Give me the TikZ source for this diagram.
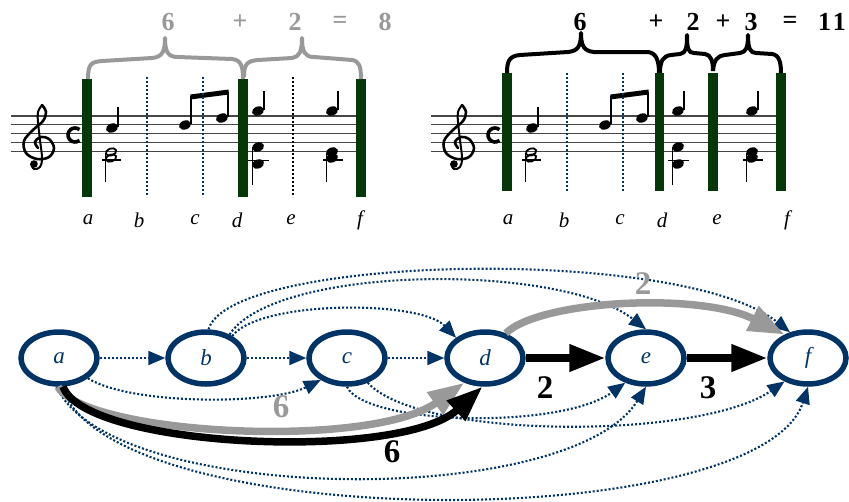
\documentclass[tikz,border=0pt]{standalone}
\usepackage{fontspec}
\setmainfont{Liberation Serif}
\usetikzlibrary{shapes.geometric,arrows.meta}
\definecolor{navy}{RGB}{0,51,102}
\definecolor{bargreen}{RGB}{4,56,8}
\definecolor{sumgray}{RGB}{153,153,153}
\definecolor{staffgray}{RGB}{70,70,70}

\tikzset{
  state/.style={ellipse, draw=navy, line width=5.5pt, minimum width=76pt,
    minimum height=52pt, inner sep=0pt, text=navy,
    font=\itshape\fontsize{23}{23}\selectfont},
  dotedge/.style={navy, line width=2.1pt, dash pattern=on 2pt off 2pt,
    -{Triangle[length=17pt,width=14pt]}},
  boldedge/.style={line width=7.5pt, -{Triangle[length=36pt,width=26pt]}},
  bignum/.style={inner sep=0pt, font=\bfseries\fontsize{33}{33}\selectfont},
  sumtext/.style={inner sep=0pt, font=\bfseries\fontsize{26}{26}\selectfont},
  beatlabel/.style={inner sep=0pt, font=\itshape\fontsize{21}{21}\selectfont},
  staffline/.style={staffgray, line width=1.1pt},
  barline/.style={fill=bargreen},
  beatline/.style={navy, line width=2.2pt, dash pattern=on 2pt off 2pt},
  stem/.style={line width=1.3pt},
  brace/.style={line width=4pt, line join=round}
}

\newcommand\headfull[2]{\fill[rotate around={20:(#1,#2)}] (#1,#2) ellipse (6.2 and 4.5);}
\newcommand\headopen[2]{\draw[line width=1.8pt, rotate around={20:(#1,#2)}] (#1,#2) ellipse (5.4 and 3.5);}

\begin{document}
\begin{tikzpicture}[x=1pt,y=-1pt]
\useasboundingbox (0,0) rectangle (849,501);

% ---------- two staves with the same music ----------
\foreach \ox in {0,420}{
\begin{scope}[xshift=\ox pt]
  \foreach \yy in {116,124.9,133.8,142.7,151.6}
    \draw[staffline] (11,\yy) -- (357,\yy);
  % treble clef
  \draw[line width=2.6pt, line cap=round] plot[smooth, tension=0.6] coordinates
    {(42,105) (46,112) (43,121) (33,130) (24,141) (26,153) (37,159) (49,157)
     (54,148) (49,139) (41,137) (35,142) (38,148)};
  \draw[line width=2pt, line cap=round] plot[smooth, tension=0.6] coordinates
    {(42,105) (38,112) (38,122) (40,140) (42,158) (40,167) (34,169) (31,164)};
  \fill (34,164) circle (3.8);
  % common time
  \draw[line width=3.6pt] (75,135) ++(50:7) arc[start angle=50, end angle=310, radius=7];
  % beat a
  \headfull{112}{128}
  \draw[stem] (118,127) -- (118,107);
  \headopen{111}{152}
  \headopen{111}{158}
  \draw[stem] (102,160) -- (121,160);
  \draw[stem] (105.8,153) -- (105.8,182);
  % beamed eighths
  \headfull{185}{125}
  \headfull{222}{118}
  \draw[stem] (191,124) -- (191,96);
  \draw[stem] (228,117) -- (228,92);
  \fill (190.4,94.5) -- (228.7,89.5) -- (228.7,94.5) -- (190.4,99.5) -- cycle;
  % beat d
  \headfull{258}{111}
  \draw[stem] (264,110) -- (264,91);
  \headfull{258}{147}
  \headfull{258}{164}
  \draw[stem] (248,160.5) -- (269,160.5);
  \draw[stem] (252.5,147) -- (252.5,185);
  % last beat
  \headfull{332}{111}
  \draw[stem] (338,110) -- (338,91);
  \headfull{332}{152}
  \headfull{332}{158}
  \draw[stem] (323,160) -- (343,160);
  \draw[stem] (326.5,153) -- (326.5,182);
\end{scope}
}

% ---------- left staff: segmentation 6 + 2 ----------
\fill[barline] (82,79) rectangle (92,197);
\fill[barline] (238,79) rectangle (248,197);
\fill[barline] (356,79) rectangle (366,197);
\draw[beatline] (147,77) -- (147,197);
\draw[beatline] (203,77) -- (203,197);
\draw[beatline, black] (293,77) -- (293,197);

\draw[brace, sumgray] (88,79) .. controls (88,64) and (91,62) .. (102,61) -- (152,58)
  .. controls (162,57) and (165,52) .. (165,38) .. controls (165,52) and (168,57) .. (178,57)
  -- (232,59) .. controls (241,60) and (243,66) .. (243,79);
\draw[brace, sumgray] (244,77) .. controls (244,64) and (247,61) .. (258,60) -- (292,58)
  .. controls (299,57) and (302,52) .. (302,38) .. controls (302,52) and (305,57) .. (314,57)
  -- (352,60) .. controls (359,61) and (361,66) .. (361,79);

\node[sumtext, sumgray] (ls6) at (168,22) {6};
\node[sumtext, sumgray] (lsp) at (240,22) {+};
\node[sumtext, sumgray] (ls2) at (295,22) {2};
\node[sumtext, sumgray] (lse) at (340,22) {=};
\node[sumtext, sumgray] (ls8) at (385,22) {8};

\node[beatlabel] (la) at (88,220) {a};
\node[beatlabel] (lb) at (139,220) {b};
\node[beatlabel] (lc) at (195,220) {c};
\node[beatlabel] (ld) at (237,220) {d};
\node[beatlabel] (le) at (291,220) {e};
\node[beatlabel] (lf) at (360,220) {f};

% ---------- right staff: segmentation 6 + 2 + 3 ----------
\fill[barline] (502,73) rectangle (512,191);
\fill[barline] (655,73) rectangle (664,191);
\fill[barline] (708,73) rectangle (718,191);
\fill[barline] (776,73) rectangle (786,191);
\draw[beatline] (567,73) -- (567,191);
\draw[beatline] (623,73) -- (623,191);

\draw[brace] (507,73) .. controls (507,60) and (510,56) .. (520,55) -- (568,52)
  .. controls (578,51) and (581,46) .. (581,33) .. controls (581,46) and (584,51) .. (594,52)
  -- (648,52) .. controls (656,53) and (659,60) .. (659,73);
\draw[brace] (660,73) .. controls (660,61) and (663,56) .. (671,55) -- (680,54)
  .. controls (686,53) and (687,48) .. (687,35) .. controls (687,48) and (688,53) .. (694,53)
  -- (705,54) .. controls (711,55) and (713,61) .. (713,71);
\draw[brace] (713,71) .. controls (714,60) and (717,56) .. (725,55) -- (740,53)
  .. controls (746,52) and (748,48) .. (748,35) .. controls (748,48) and (750,53) .. (756,53)
  -- (772,54) .. controls (779,55) and (781,62) .. (781,73);

\node[sumtext] (rs6) at (580,22) {6};
\node[sumtext] (rsp1) at (656,22) {+};
\node[sumtext] (rs2) at (693,22) {2};
\node[sumtext] (rsp2) at (723,22) {+};
\node[sumtext] (rs3) at (751,22) {3};
\node[sumtext] (rse) at (790,22) {=};
\node[sumtext] (rs11) at (832,22) {1\kern2pt1};

\node[beatlabel] (ra) at (508,220) {a};
\node[beatlabel] (rb) at (564,220) {b};
\node[beatlabel] (rc) at (620,220) {c};
\node[beatlabel] (rd) at (662,220) {d};
\node[beatlabel] (re) at (717,220) {e};
\node[beatlabel] (rf) at (787,220) {f};

% ---------- graph of beat positions ----------
\node[state] (a) at (59,358) {a};
\node[state] (b) at (206,358) {b};
\node[state] (c) at (347,358) {c};
\node[state] (d) at (485,358) {d};
\node[state] (e) at (646,358) {e};
\node[state] (f) at (808,358) {f};

% dotted candidate edges
\draw[dotedge] (a) -- (b);
\draw[dotedge] (b) -- (c);
\draw[dotedge] (c) -- (d);
\draw[dotedge] (a.-35) .. controls (130,405) and (270,405) .. (c.-140);
\draw[dotedge] (b.40) .. controls (260,300) and (420,300) .. (d.145);
\draw[dotedge] (b.45) .. controls (275,265) and (560,262) .. (e.north);
\draw[dotedge] (b.85) .. controls (230,255) and (680,245) .. (f.125);
\draw[dotedge] (c.-90) .. controls (365,425) and (560,430) .. (e.-130);
\draw[dotedge] (c.-50) .. controls (420,440) and (700,440) .. (f.-135);
\draw[dotedge] (a.-95) .. controls (110,505) and (570,510) .. (e.south);
\draw[dotedge] (a.-85) .. controls (110,535) and (760,535) .. (f.south);

% chosen paths
\draw[boldedge, sumgray] (d.50) .. controls (540,300) and (700,292) .. (f.135);
\draw[boldedge, sumgray] (a.-92) .. controls (85,435) and (370,450) .. (d.-130);
\draw[boldedge] (a.-82) .. controls (85,448) and (400,462) .. (d.-95);
\draw[boldedge] (d) -- (e);
\draw[boldedge] (e) -- (f);

\node[bignum, sumgray] (g6) at (281,407) {6};
\node[bignum] (k6) at (392,452) {6};
\node[bignum] (k2) at (545,388) {2};
\node[bignum] (k3) at (708,388) {3};
\node[bignum, sumgray] (g2) at (643,284) {2};

\end{tikzpicture}
\end{document}
